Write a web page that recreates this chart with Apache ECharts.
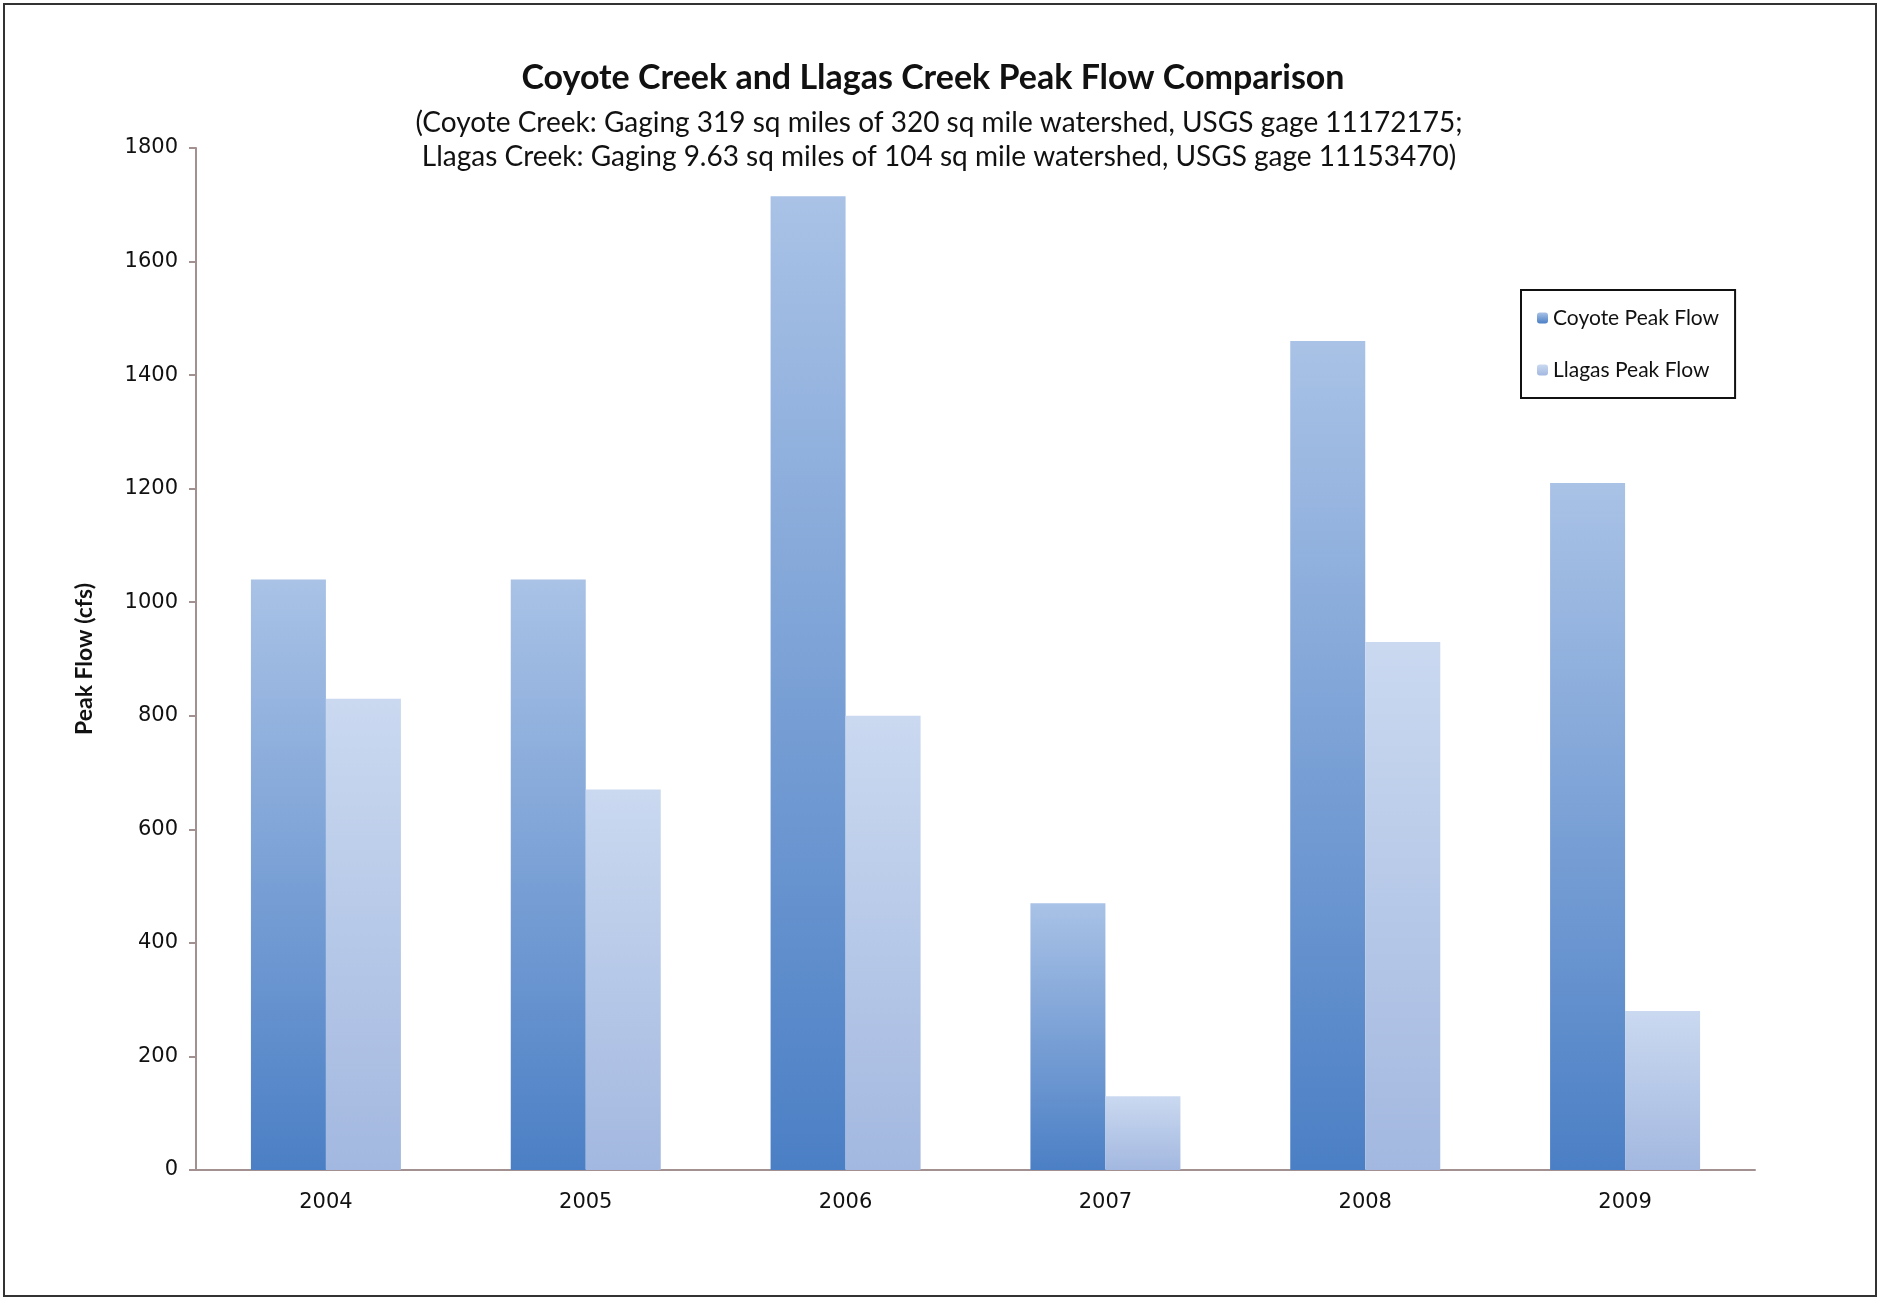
<!DOCTYPE html>
<html>
<head>
<meta charset="utf-8">
<title>Coyote Creek and Llagas Creek Peak Flow Comparison</title>
<script src="https://cdn.jsdelivr.net/npm/echarts@6/dist/echarts.min.js"></script>
<style>
  html, body { margin: 0; padding: 0; background: #fff; }
  #chart { width: 1881px; height: 1300px; }
</style>
</head>
<body>
<div id="chart"></div>
<script>
const years = ["2004", "2005", "2006", "2007", "2008", "2009"];
const coyotePeak = [1040, 1040, 1715, 470, 1460, 1210];
const llagasPeak = [830, 670, 800, 130, 930, 280];
const yTicks = { min: 0, max: 1800, interval: 200 };

const fontMain = "Lato, 'Open Sans', sans-serif";
const axisColor = "#a39191";

const vGrad = (top, bottom) => ({
  type: "linear", x: 0, y: 0, x2: 0, y2: 1,
  colorStops: [
    { offset: 0, color: top },
    { offset: 1, color: bottom },
  ],
});

const chart = echarts.init(document.getElementById("chart"));
chart.setOption({
  animation: false,
  backgroundColor: "#fff",
  title: [
    {
      text: "Coyote Creek and Llagas Creek Peak Flow Comparison",
      left: 928,
      top: 56,
      textAlign: "center",
      textStyle: { fontFamily: fontMain, fontWeight: "bold", fontSize: 34, color: "#111" },
    },
    {
      text: "(Coyote Creek: Gaging 319 sq miles of 320 sq mile watershed, USGS gage 11172175;\nLlagas Creek: Gaging 9.63 sq miles of 104 sq mile watershed, USGS gage 11153470)",
      left: 934,
      top: 101,
      textAlign: "center",
      textStyle: { fontFamily: fontMain, fontWeight: "normal", fontSize: 28, lineHeight: 34, color: "#111" },
    },
  ],
  graphic: [
    {
      type: "rect",
      shape: { x: 4, y: 4, width: 1872, height: 1292 },
      style: { fill: "none", stroke: "#333", lineWidth: 2 },
      silent: true,
    },
  ],
  legend: {
    orient: "vertical",
    left: 1521,
    top: 290,
    padding: [16, 16, 16, 16],
    itemWidth: 11,
    itemHeight: 11,
    itemGap: 28,
    borderColor: "#111",
    borderWidth: 2,
    textStyle: { fontFamily: fontMain, fontSize: 21, lineHeight: 24, color: "#111" },
    data: ["Coyote Peak Flow", "Llagas Peak Flow"],
  },
  grid: { left: 196, right: 126, top: 148, bottom: 130 },
  xAxis: {
    type: "category",
    data: years,
    axisLine: { lineStyle: { color: axisColor, width: 2 } },
    axisTick: { show: false },
    axisLabel: { fontFamily: "DejaVu Sans", fontSize: 21, color: "#111", margin: 22 },
  },
  yAxis: {
    type: "value",
    min: yTicks.min,
    max: yTicks.max,
    interval: yTicks.interval,
    name: "Peak Flow (cfs)",
    nameLocation: "middle",
    nameGap: 100,
    nameTextStyle: { fontFamily: fontMain, fontWeight: "bold", fontSize: 23, color: "#111" },
    axisLine: { show: true, lineStyle: { color: axisColor, width: 2 } },
    axisTick: { show: true, length: 7, lineStyle: { color: axisColor, width: 2 } },
    splitLine: { show: false },
    axisLabel: {
      fontFamily: "DejaVu Sans",
      fontSize: 21,
      color: "#111",
      margin: 18,
      formatter: (v) => String(v),
    },
  },
  series: [
    {
      name: "Coyote Peak Flow",
      type: "bar",
      data: coyotePeak,
      barWidth: 75,
      barGap: "0%",
      itemStyle: { color: vGrad("#a9c2e6", "#4b7fc5") },
    },
    {
      name: "Llagas Peak Flow",
      type: "bar",
      data: llagasPeak,
      barWidth: 75,
      itemStyle: { color: vGrad("#cad9f0", "#a3b8e0") },
    },
  ],
});
</script>
</body>
</html>
